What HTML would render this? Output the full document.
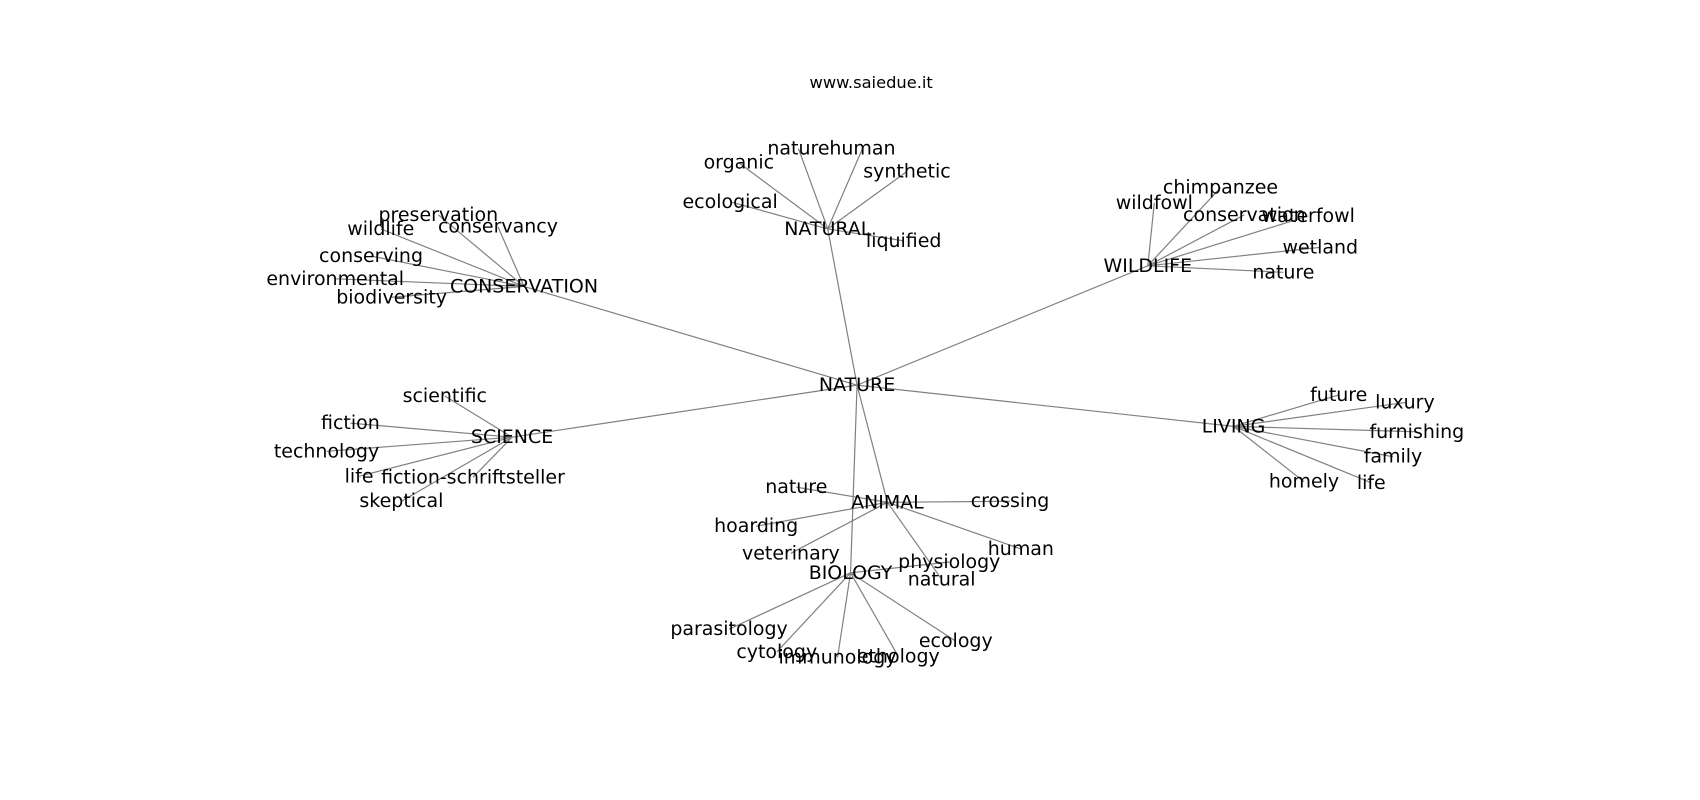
<!DOCTYPE html>
<html><head><meta charset="utf-8"><style>
html,body{margin:0;padding:0;background:#fff;}
svg{display:block}
text{font-family:"DejaVu Sans","Liberation Sans",sans-serif;font-size:17.5px;fill:#000;text-anchor:middle;dominant-baseline:central}
line{stroke:#808080;stroke-width:1.1}
</style></head><body>
<svg width="1700" height="800" viewBox="0 0 1567 737.4" xmlns="http://www.w3.org/2000/svg">
<g id="e">
<line x1="790" y1="355" x2="483" y2="264"/>
<line x1="790" y1="355" x2="763" y2="211"/>
<line x1="790" y1="355" x2="1058" y2="245"/>
<line x1="790" y1="355" x2="472" y2="403"/>
<line x1="790" y1="355" x2="1137" y2="393"/>
<line x1="790" y1="355" x2="818" y2="463"/>
<line x1="790" y1="355" x2="784" y2="528"/>
<line x1="483" y1="264" x2="404" y2="198"/><line x1="483" y1="264" x2="351" y2="211"/><line x1="483" y1="264" x2="459" y2="209"/><line x1="483" y1="264" x2="342" y2="236"/><line x1="483" y1="264" x2="309" y2="257"/><line x1="483" y1="264" x2="361" y2="274"/>
<line x1="763" y1="211" x2="681" y2="150"/><line x1="763" y1="211" x2="736" y2="137"/><line x1="763" y1="211" x2="795" y2="137"/><line x1="763" y1="211" x2="836" y2="158"/><line x1="763" y1="211" x2="673" y2="186"/><line x1="763" y1="211" x2="833" y2="222"/>
<line x1="1058" y1="245" x2="1125" y2="173"/><line x1="1058" y1="245" x2="1064" y2="187"/><line x1="1058" y1="245" x2="1147" y2="198"/><line x1="1058" y1="245" x2="1206" y2="199"/><line x1="1058" y1="245" x2="1217" y2="228"/><line x1="1058" y1="245" x2="1183" y2="251"/>
<line x1="472" y1="403" x2="410" y2="365"/><line x1="472" y1="403" x2="323" y2="390"/><line x1="472" y1="403" x2="301" y2="416"/><line x1="472" y1="403" x2="331" y2="439"/><line x1="472" y1="403" x2="436" y2="440"/><line x1="472" y1="403" x2="370" y2="462"/>
<line x1="1137" y1="393" x2="1234" y2="364"/><line x1="1137" y1="393" x2="1295" y2="371"/><line x1="1137" y1="393" x2="1306" y2="398"/><line x1="1137" y1="393" x2="1284" y2="421"/><line x1="1137" y1="393" x2="1202" y2="444"/><line x1="1137" y1="393" x2="1264" y2="445"/>
<line x1="818" y1="463" x2="734" y2="449"/><line x1="818" y1="463" x2="931" y2="462"/><line x1="818" y1="463" x2="697" y2="485"/><line x1="818" y1="463" x2="729" y2="510"/><line x1="818" y1="463" x2="941" y2="506"/><line x1="818" y1="463" x2="868" y2="534"/>
<line x1="784" y1="528" x2="875" y2="518"/><line x1="784" y1="528" x2="672" y2="580"/><line x1="784" y1="528" x2="716" y2="601"/><line x1="784" y1="528" x2="772" y2="606"/><line x1="784" y1="528" x2="828" y2="605"/><line x1="784" y1="528" x2="881" y2="591"/>
</g>
<text x="803" y="76" style="font-size:15px">www.saiedue.it</text>
<text x="790" y="355">NATURE</text>
<text x="483" y="264">CONSERVATION</text>
<text x="404" y="198">preservation</text><text x="351" y="211">wildlife</text><text x="459" y="209">conservancy</text><text x="342" y="236">conserving</text><text x="309" y="257">environmental</text><text x="361" y="274">biodiversity</text>
<text x="763" y="211">NATURAL</text>
<text x="681" y="150">organic</text><text x="736" y="137">nature</text><text x="795" y="137">human</text><text x="836" y="158">synthetic</text><text x="673" y="186">ecological</text><text x="833" y="222">liquified</text>
<text x="1058" y="245">WILDLIFE</text>
<text x="1125" y="173">chimpanzee</text><text x="1064" y="187">wildfowl</text><text x="1147" y="198">conservation</text><text x="1206" y="199">waterfowl</text><text x="1217" y="228">wetland</text><text x="1183" y="251">nature</text>
<text x="472" y="403">SCIENCE</text>
<text x="410" y="365">scientific</text><text x="323" y="390">fiction</text><text x="301" y="416">technology</text><text x="331" y="439">life</text><text x="436" y="440">fiction-schriftsteller</text><text x="370" y="462">skeptical</text>
<text x="1137" y="393">LIVING</text>
<text x="1234" y="364">future</text><text x="1295" y="371">luxury</text><text x="1306" y="398">furnishing</text><text x="1284" y="421">family</text><text x="1202" y="444">homely</text><text x="1264" y="445">life</text>
<text x="818" y="463">ANIMAL</text>
<text x="734" y="449">nature</text><text x="931" y="462">crossing</text><text x="697" y="485">hoarding</text><text x="729" y="510">veterinary</text><text x="941" y="506">human</text><text x="875" y="518">physiology</text><text x="868" y="534">natural</text>
<text x="784" y="528">BIOLOGY</text>
<text x="672" y="580">parasitology</text><text x="716" y="601">cytology</text><text x="772" y="606">immunology</text><text x="828" y="605">ethology</text><text x="881" y="591">ecology</text>
</svg>
</body></html>
